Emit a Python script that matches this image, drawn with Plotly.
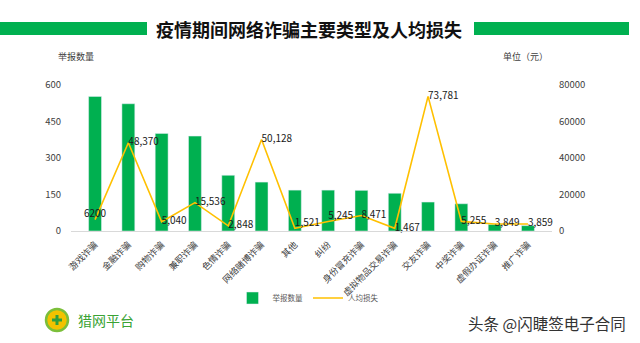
import plotly.graph_objects as go

categories = ["游戏诈骗", "金融诈骗", "购物诈骗", "兼职诈骗", "色情诈骗", "网络赌博诈骗", "其他", "纠纷",
              "身份冒充诈骗", "虚拟物品交易诈骗", "交友诈骗", "中奖诈骗", "虚假办证诈骗", "推广诈骗"]
reports = [553, 523, 401, 390, 229, 201, 168, 168, 167, 155, 119, 112, 27, 22]
avg_loss = [6200, 48370, 5040, 15536, 2848, 50128, 1521, 5245, 8471, 1467, 73781, 5255, 3849, 3859]
left_ticks = [0, 150, 300, 450, 600]
right_ticks = [0, 20000, 40000, 60000, 80000]

label_pos = ["top center", "middle right", "middle right", "middle right", "middle right", "middle right",
             "top right", "top right", "middle right", "middle right", "middle right", "middle right",
             "middle right", "middle right"]
label_fmt = ["%{y:d}"] + ["%{y:,d}"] * (len(avg_loss) - 1)

FONT = "Noto Sans CJK SC"
GREEN = "#00B050"
YELLOW = "#FFC000"

W, H = 640, 343
L, R, T, B = 71, 88, 85, 112
PW, PH = W - L - R, H - T - B


def px(x):
    return (x - L) / PW


def py(y):
    return (H - B - y) / PH


fig = go.Figure()
fig.add_trace(go.Bar(
    x=categories, y=reports, name="举报数量", marker_color=GREEN, yaxis="y",
))
fig.add_trace(go.Scatter(
    x=categories, y=avg_loss, name="人均损失", yaxis="y2", mode="lines+text",
    line=dict(color=YELLOW, width=1.6),
    texttemplate=label_fmt, textposition=label_pos,
    textfont=dict(family=FONT, size=10, color="#1a1a1a"),
    cliponaxis=False,
))

fig.update_layout(
    width=W, height=H, autosize=False,
    margin=dict(l=L, r=R, t=T, b=B, pad=0),
    paper_bgcolor="white", plot_bgcolor="white",
    font=dict(family=FONT, size=9.5, color="#404040"),
    bargap=0.613,
    showlegend=True,
    legend=dict(orientation="h", x=px(308), y=py(298), xanchor="center", yanchor="middle",
                font=dict(family=FONT, size=7.5, color="#595959"), itemwidth=30,
                bgcolor="rgba(0,0,0,0)", tracegroupgap=0),
    xaxis=dict(tickangle=-45, showgrid=False, showline=True, linecolor="#D9D9D9", linewidth=1,
               ticks="", tickfont=dict(family=FONT, size=9, color="#404040"),
               ticklabelstandoff=4, zeroline=False),
    yaxis=dict(range=[0, 600], tickvals=left_ticks, showgrid=False, zeroline=False, showline=False,
               ticks="", tickfont=dict(family=FONT, size=9.5, color="#404040"), ticklabelstandoff=9),
    yaxis2=dict(range=[0, 80000], tickvals=right_ticks, tickformat="d", overlaying="y", side="right",
                showgrid=False, zeroline=False, showline=False, ticks="",
                tickfont=dict(family=FONT, size=9.5, color="#404040"), ticklabelstandoff=6),
)

shapes = [
    dict(type="rect", xref="paper", yref="paper", x0=px(0), x1=px(147), y0=py(35), y1=py(22),
         fillcolor=GREEN, line=dict(width=0), layer="above"),
    dict(type="rect", xref="paper", yref="paper", x0=px(474), x1=px(629), y0=py(35), y1=py(22),
         fillcolor=GREEN, line=dict(width=0), layer="above"),
    # logo
    dict(type="circle", xref="paper", yref="paper", x0=px(46), x1=px(68), y0=py(331), y1=py(309),
         fillcolor="#F2C200", line=dict(color="#7BBF3A", width=2.5), layer="above"),
    dict(type="rect", xref="paper", yref="paper", x0=px(55.5), x1=px(58.5), y0=py(325), y1=py(315),
         fillcolor="#2E9E3E", line=dict(width=0), layer="above"),
    dict(type="rect", xref="paper", yref="paper", x0=px(52), x1=px(62), y0=py(321.5), y1=py(318.5),
         fillcolor="#2E9E3E", line=dict(width=0), layer="above"),
]
fig.update_layout(shapes=shapes)

annotations = [
    dict(text="<b>疫情期间网络诈骗主要类型及人均损失</b>", x=px(309), y=py(29), xref="paper", yref="paper",
         showarrow=False, xanchor="center", yanchor="middle",
         font=dict(family=FONT, size=18, color="#111111")),
    dict(text="举报数量", x=px(76), y=py(57), xref="paper", yref="paper", showarrow=False,
         xanchor="center", yanchor="middle", font=dict(family=FONT, size=9, color="#404040")),
    dict(text="单位（元）", x=px(525), y=py(57), xref="paper", yref="paper", showarrow=False,
         xanchor="center", yanchor="middle", font=dict(family=FONT, size=9, color="#404040")),
    dict(text="猎网平台", x=px(76), y=py(320), xref="paper", yref="paper", showarrow=False,
         xanchor="left", yanchor="middle", font=dict(family=FONT, size=14, color="#3AA335")),
    dict(text="头条 @闪睫签电子合同", x=px(628), y=py(323), xref="paper", yref="paper", showarrow=False,
         xanchor="right", yanchor="middle", font=dict(family=FONT, size=15.5, color="#333333")),
]
fig.update_layout(annotations=annotations)

fig.write_html("out.html")
